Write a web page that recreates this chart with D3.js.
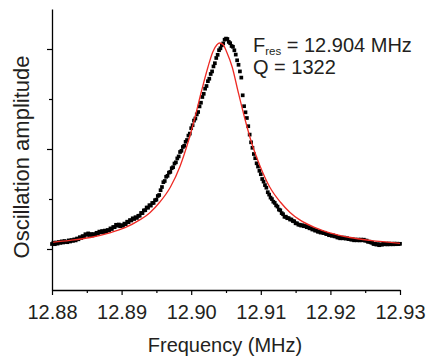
<!DOCTYPE html>
<html><head><meta charset="utf-8">
<script src="https://cdn.jsdelivr.net/npm/d3@7"></script>
<style>body{margin:0;background:#fff;} svg{display:block;}</style>
</head><body><svg id="c" width="427" height="359"></svg>
<script>
// Measured sweep (MHz)
const frequency = [
12.8800,12.8802,12.8804,12.8806,12.8808,12.8810,12.8812,12.8814,12.8816,12.8818,
12.8820,12.8822,12.8824,12.8826,12.8828,12.8830,12.8832,12.8834,12.8836,12.8838,
12.8840,12.8842,12.8844,12.8846,12.8848,12.8850,12.8852,12.8854,12.8856,12.8858,
12.8860,12.8862,12.8864,12.8866,12.8868,12.8870,12.8872,12.8874,12.8876,12.8878,
12.8880,12.8882,12.8884,12.8886,12.8888,12.8890,12.8892,12.8894,12.8896,12.8898,
12.8900,12.8902,12.8904,12.8906,12.8908,12.8910,12.8912,12.8914,12.8916,12.8918,
12.8920,12.8922,12.8924,12.8926,12.8928,12.8930,12.8932,12.8934,12.8936,12.8938,
12.8940,12.8942,12.8944,12.8946,12.8948,12.8950,12.8952,12.8954,12.8956,12.8958,
12.8960,12.8962,12.8964,12.8966,12.8968,12.8970,12.8972,12.8974,12.8976,12.8978,
12.8980,12.8982,12.8984,12.8986,12.8988,12.8990,12.8992,12.8994,12.8996,12.8998,
12.9000,12.9002,12.9004,12.9006,12.9008,12.9010,12.9012,12.9014,12.9016,12.9018,
12.9020,12.9022,12.9024,12.9026,12.9028,12.9030,12.9032,12.9034,12.9036,12.9038,
12.9040,12.9042,12.9044,12.9046,12.9048,12.9050,12.9052,12.9054,12.9056,12.9058,
12.9060,12.9062,12.9064,12.9066,12.9068,12.9070,12.9072,12.9074,12.9076,12.9078,
12.9080,12.9082,12.9084,12.9086,12.9088,12.9090,12.9092,12.9094,12.9096,12.9098,
12.9100,12.9102,12.9104,12.9106,12.9108,12.9110,12.9112,12.9114,12.9116,12.9118,
12.9120,12.9122,12.9124,12.9126,12.9128,12.9130,12.9132,12.9134,12.9136,12.9138,
12.9140,12.9142,12.9144,12.9146,12.9148,12.9150,12.9152,12.9154,12.9156,12.9158,
12.9160,12.9162,12.9164,12.9166,12.9168,12.9170,12.9172,12.9174,12.9176,12.9178,
12.9180,12.9182,12.9184,12.9186,12.9188,12.9190,12.9192,12.9194,12.9196,12.9198,
12.9200,12.9202,12.9204,12.9206,12.9208,12.9210,12.9212,12.9214,12.9216,12.9218,
12.9220,12.9222,12.9224,12.9226,12.9228,12.9230,12.9232,12.9234,12.9236,12.9238,
12.9240,12.9242,12.9244,12.9246,12.9248,12.9250,12.9252,12.9254,12.9256,12.9258,
12.9260,12.9262,12.9264,12.9266,12.9268,12.9270,12.9272,12.9274,12.9276,12.9278,
12.9280,12.9282,12.9284,12.9286,12.9288,12.9290,12.9292,12.9294,12.9296,12.9298,
12.9300];
// Measured oscillation amplitude (arbitrary units)
const amplitude = [
5.0,6.3,4.8,6.5,5.4,7.0,6.1,7.6,6.5,8.0,
7.0,6.8,8.6,7.5,9.0,8.1,9.6,8.6,10.5,9.7,
11.8,11.0,12.9,12.4,14.8,14.2,15.6,14.0,15.0,13.5,
14.9,14.5,16.2,15.4,17.4,16.6,18.0,16.9,18.4,17.3,
19.0,18.5,20.6,20.0,22.0,21.8,24.2,23.3,24.5,22.8,
23.9,23.2,25.4,24.9,27.3,26.8,28.9,28.5,30.7,30.0,
31.8,31.1,33.2,33.3,36.0,35.9,38.6,38.8,41.5,41.3,
43.8,43.4,46.0,46.1,48.8,49.3,53.0,54.0,58.8,62.0,
66.8,68.0,72.2,73.2,76.4,77.1,80.8,81.8,85.5,86.7,
90.6,92.6,97.0,98.2,102.0,103.2,107.2,109.0,113.4,115.4,
120.8,123.8,128.4,130.5,134.6,137.0,142.6,146.3,152.0,155.2,
160.3,163.0,167.8,170.3,175.0,177.6,182.6,185.8,191.0,194.2,
198.8,200.7,203.7,205.6,209.3,210.4,210.0,207.1,205.8,203.0,
202.2,198.7,194.4,188.7,184.2,177.6,171.4,153.7,142.8,136.7,
131.0,122.8,114.4,106.7,101.2,95.0,90.8,85.7,82.4,78.2,
74.8,70.0,67.4,63.9,61.3,56.8,54.4,51.4,49.9,47.3,
46.1,43.6,42.4,39.4,38.7,35.9,34.8,32.2,32.3,30.8,
30.9,29.5,29.5,28.0,27.7,25.7,25.7,24.3,24.3,23.4,
23.8,22.8,23.0,21.8,21.9,20.7,20.8,19.5,19.7,18.4,
18.6,17.3,17.4,16.4,16.9,15.9,16.2,14.9,15.1,13.8,
14.2,13.2,13.6,12.6,12.7,11.5,11.6,10.7,11.4,10.7,
11.4,10.4,10.8,9.9,10.2,9.3,9.7,8.7,9.4,8.7,
9.4,8.6,9.4,8.7,9.3,8.3,8.4,7.2,7.3,6.6,
6.2,5.0,5.3,4.4,4.9,3.8,4.6,4.3,5.2,4.7,
5.3,4.6,5.4,4.7,5.3,4.7,5.4,4.8,5.3,4.9,
5.2];
// Lorentzian fit curve
const fitFrequency = [12.8800,12.8826,12.8855,12.8883,12.8905,12.8926,12.8941,12.8955,12.8970,12.8984,12.8995,12.9005,12.9015,12.9024,12.9031,12.9037,12.9041,12.9046,12.9051,12.9059,12.9067,12.9077,12.9087,12.9099,12.9113,12.9128,12.9142,12.9156,12.9178,12.9199,12.9228,12.9257,12.9300];
const fitAmplitude = [6.7,8.6,11.5,16.1,21.3,29.1,36.6,47.0,61.8,82.8,105.7,130.5,158.5,181.8,197.1,204.3,206.0,204.3,197.1,181.8,158.5,130.5,105.7,82.8,61.8,47.0,36.6,29.1,21.3,16.1,11.5,8.6,5.7];
const xTicks = [12.88,12.89,12.90,12.91,12.92,12.93];
const xMinorTicks = [12.885,12.895,12.905,12.915,12.925];
const yTicks = [0,100,200];
const yMinorTicks = [50,150];
const xLabel = "Frequency (MHz)";
const yLabel = "Oscillation amplitude";
const fres = "12.904 MHz";
const qValue = "1322";

const svg = d3.select("#c");
const FONT = "'Liberation Sans', Arial, Helvetica, sans-serif";
const TXT = "#231f20";
const x = d3.scaleLinear().domain([12.88,12.93]).range([52,400]);
const y = d3.scaleLinear().domain([-41,240]).range([290,9]);

const line = d3.line().x((d,i)=>x(fitFrequency[i])).y((d,i)=>y(fitAmplitude[i])).curve(d3.curveMonotoneX);

// data points
const s = 3.7;
svg.append("g").selectAll("rect").data(frequency).join("rect")
  .attr("x",(d)=>x(d)-s/2).attr("y",(d,i)=>y(amplitude[i])-s/2)
  .attr("width",s).attr("height",s).attr("fill","#000");

svg.append("path").datum(fitAmplitude).attr("d",line)
  .attr("fill","none").attr("stroke","#ee2a24").attr("stroke-width",1.3);

// axes
const gx = svg.append("g").attr("transform","translate(0,290)")
  .call(d3.axisBottom(x).tickValues(xTicks).tickSize(5).tickSizeOuter(0).tickFormat(d3.format(".2f")));
gx.select(".domain").attr("stroke","#000").attr("stroke-width",1.3);
gx.selectAll(".tick line").attr("stroke","#000").attr("stroke-width",1.2);
gx.selectAll(".tick text").attr("y",29).attr("dy",0).attr("fill",TXT)
  .style("font-family",FONT).style("font-size","20px");
const gxm = svg.append("g").attr("transform","translate(0,290)")
  .call(d3.axisBottom(x).tickValues(xMinorTicks).tickSize(3).tickSizeOuter(0).tickFormat(""));
gxm.select(".domain").remove();
gxm.selectAll(".tick line").attr("stroke","#000").attr("stroke-width",1.2);

const gy = svg.append("g").attr("transform","translate(52,0)")
  .call(d3.axisLeft(y).tickValues(yTicks).tickSize(5).tickSizeOuter(0).tickFormat(""));
gy.select(".domain").attr("stroke","#000").attr("stroke-width",1.3);
gy.selectAll(".tick line").attr("stroke","#000").attr("stroke-width",1.2);
const gym = svg.append("g").attr("transform","translate(52,0)")
  .call(d3.axisLeft(y).tickValues(yMinorTicks).tickSize(3).tickSizeOuter(0).tickFormat(""));
gym.select(".domain").remove();
gym.selectAll(".tick line").attr("stroke","#000").attr("stroke-width",1.2);

// labels
svg.append("text").attr("x",225).attr("y",352).attr("text-anchor","middle")
  .attr("fill",TXT).style("font-family",FONT).style("font-size","20px").text(xLabel);
svg.append("text").attr("transform","translate(29,157) rotate(-90)").attr("text-anchor","middle")
  .attr("fill",TXT).style("font-family",FONT).style("font-size","22px").text(yLabel);

// annotation
const ann = svg.append("text").attr("x",253).attr("y",52).attr("fill",TXT)
  .style("font-family",FONT).style("font-size","20px");
ann.append("tspan").text("F");
ann.append("tspan").attr("dy",3).style("font-size","11.5px").text("res");
ann.append("tspan").attr("dy",-3).text(" = " + fres);
svg.append("text").attr("x",253).attr("y",74).attr("fill",TXT)
  .style("font-family",FONT).style("font-size","20px").text("Q = " + qValue);
</script></body></html>
